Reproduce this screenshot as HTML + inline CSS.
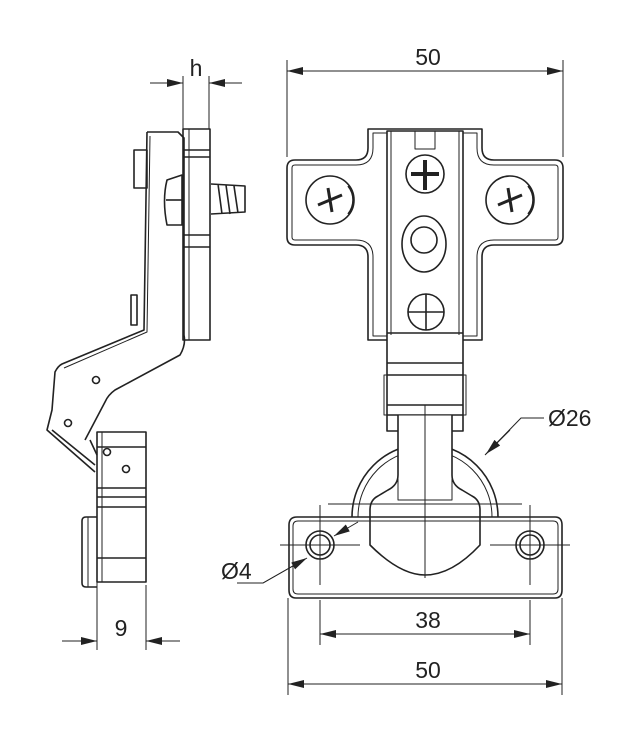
<!DOCTYPE html>
<html><head><meta charset="utf-8"><style>
html,body{margin:0;padding:0;background:#fff}
svg{display:block}
text{font-family:"Liberation Sans",sans-serif;fill:#222}
</style></head><body>
<svg width="619" height="738" viewBox="0 0 619 738" xmlns="http://www.w3.org/2000/svg">
<defs>
<marker id="a" markerWidth="16" markerHeight="8" refX="16" refY="4" orient="auto-start-reverse" markerUnits="userSpaceOnUse">
<path d="M0,0 L16,4 L0,8 Z" fill="#222"/></marker>
</defs>
<g fill="none" stroke="#222" stroke-width="1">
<line x1="183" y1="76" x2="183" y2="129"/><line x1="209" y1="76" x2="209" y2="129"/>
<line x1="150" y1="83" x2="183" y2="83" marker-end="url(#a)"/>
<line x1="242" y1="83" x2="209" y2="83" marker-end="url(#a)"/>
<line x1="287" y1="60" x2="287" y2="157"/><line x1="563" y1="60" x2="563" y2="157"/>
<line x1="287" y1="71" x2="563" y2="71" marker-start="url(#a)" marker-end="url(#a)"/>
<line x1="97" y1="580" x2="97" y2="650"/><line x1="146" y1="585" x2="146" y2="650"/>
<line x1="62" y1="641" x2="97" y2="641" marker-end="url(#a)"/>
<line x1="180" y1="641" x2="146" y2="641" marker-end="url(#a)"/>
<line x1="320" y1="600" x2="320" y2="645"/><line x1="530" y1="600" x2="530" y2="645"/>
<line x1="320" y1="634" x2="530" y2="634" marker-start="url(#a)" marker-end="url(#a)"/>
<line x1="288" y1="598" x2="288" y2="695"/><line x1="562" y1="598" x2="562" y2="695"/>
<line x1="288" y1="684" x2="562" y2="684" marker-start="url(#a)" marker-end="url(#a)"/>
<polyline points="544,418 521,418 485,455"/>
<line x1="510" y1="430" x2="486" y2="454" marker-end="url(#a)"/>
<polyline points="237,583 263,583 305,559"/>
<line x1="263" y1="583" x2="307" y2="558" marker-end="url(#a)"/>
<line x1="358" y1="522" x2="334" y2="536" marker-end="url(#a)"/>
<line x1="425" y1="405" x2="425" y2="578"/>
<line x1="328" y1="504" x2="522" y2="504"/>
<line x1="280" y1="545" x2="360" y2="545"/><line x1="490" y1="545" x2="570" y2="545"/>
<line x1="320" y1="505" x2="320" y2="585"/><line x1="530" y1="505" x2="530" y2="585"/>
</g>
<g fill="none" stroke="#222" stroke-width="1.6" stroke-linejoin="round">
<path d="M368,129 H482 V148 Q482,160 494,160 H555 Q563,160 563,168 V237 Q563,245 555,245 H494 Q482,245 482,257 V340 H368 V257 Q368,245 356,245 H295 Q287,245 287,237 V168 Q287,160 295,160 H356 Q368,160 368,148 Z"/>
<path d="M373,133 H477 V148 Q477,165 494,165 H555 Q558,165 558,168 V237 Q558,240 555,240 H494 Q477,240 477,257 V336 H373 V257 Q373,240 356,240 H295 Q292,240 292,237 V168 Q292,165 295,165 H356 Q373,165 373,148 Z" stroke-width="1"/>
<rect x="387" y="131" width="76" height="300" fill="#fff"/>
<line x1="391" y1="131" x2="391" y2="335" stroke-width="1"/><line x1="459" y1="131" x2="459" y2="335" stroke-width="1"/>
<line x1="387" y1="333" x2="463" y2="333"/><line x1="387" y1="363" x2="463" y2="363"/><line x1="387" y1="375" x2="463" y2="375"/>
<line x1="387" y1="405" x2="463" y2="405"/><line x1="387" y1="415" x2="463" y2="415"/>
<rect x="384" y="375" width="82" height="40" stroke-width="1"/>
<rect x="415" y="131" width="20" height="18" stroke-width="1"/>
<circle cx="330" cy="200" r="24"/><path d="M348,186 A22,22 0 0 1 348,214" />
<circle cx="510" cy="200" r="24"/><path d="M528,186 A22,22 0 0 1 528,214"/>
<path d="M318,205 L342,195 M328,188 L332,212" stroke-width="3"/>
<path d="M498,205 L522,195 M508,188 L512,212" stroke-width="3"/>
<circle cx="425" cy="174" r="19"/>
<path d="M425,160 V190 M411,174 H439" stroke-width="4"/>
<ellipse cx="424" cy="244" rx="22" ry="28"/><circle cx="424" cy="240" r="13"/>
<circle cx="426" cy="312" r="18"/><path d="M426,294 V330 M408,312 H444"/>
<path d="M352,517 A73,73 0 1 1 498,517"/>
<path d="M358,517 A67,67 0 1 1 492,517" stroke-width="1"/>
<path d="M398,415 V475 Q398,485 388,490 L378,496 Q370,500 370,510 V545 Q400,575 425,575 Q452,575 480,545 V510 Q480,500 472,496 L462,490 Q452,485 452,475 V415" fill="#fff"/>
<rect x="398" y="415" width="54" height="85" stroke-width="1"/>
<line x1="425" y1="405" x2="425" y2="578" stroke-width="1"/>
<line x1="370" y1="504" x2="480" y2="504" stroke-width="1"/>
<path d="M297,517 H555 Q562,517 562,525 V590 Q562,598 555,598 H296 Q289,598 289,590 V525 Q289,517 297,517 Z"/>
<path d="M298,521 H553 Q558,521 558,526 V589 Q558,594 553,594 H298 Q293,594 293,589 V526 Q293,521 298,521 Z" stroke-width="1"/>
<circle cx="320" cy="545" r="14"/><circle cx="320" cy="545" r="10"/>
<circle cx="530" cy="545" r="14"/><circle cx="530" cy="545" r="10"/>
<rect x="183" y="129" width="27" height="211"/>
<line x1="189" y1="129" x2="189" y2="340" stroke-width="1"/>
<line x1="183" y1="150" x2="210" y2="150"/><line x1="183" y1="157" x2="210" y2="157"/>
<line x1="183" y1="235" x2="210" y2="235"/><line x1="183" y1="247" x2="210" y2="247"/>
<path d="M147,132 H178 L184,138 V335 Q186,345 180,355 L115,390 Q108,395 105,402 L85,440"/>
<path d="M147,132 L144,330 L62,364 Q58,366 55,372 L52,410 L47,430 L95,472"/>
<path d="M150,136 L147,332 L64,368" stroke-width="1"/>
<path d="M167,180 Q162,200 167,225 L182,225 V175 Z"/>
<line x1="166" y1="200" x2="182" y2="200"/>
<path d="M211,184 L245,186 V212 L211,214 M218,184 L222,214 M226,185 L230,214 M234,186 L238,213"/>
<rect x="134" y="150" width="13" height="38"/>
<rect x="131" y="295" width="6" height="30"/>
<circle cx="96" cy="380" r="3.5"/><circle cx="68" cy="423" r="3.5"/>
<rect x="97" y="432" width="49" height="150"/>
<line x1="102" y1="432" x2="102" y2="582" stroke-width="1"/>
<line x1="97" y1="447" x2="146" y2="447"/><line x1="97" y1="488" x2="146" y2="488"/>
<line x1="97" y1="497" x2="146" y2="497"/><line x1="97" y1="507" x2="146" y2="507"/>
<line x1="97" y1="558" x2="146" y2="558"/>
<circle cx="107" cy="452" r="3.5"/><circle cx="126" cy="469" r="3.5"/>
<path d="M97,517 H86 Q82,517 82,521 V583 Q82,587 86,587 H97"/>
<line x1="88" y1="517" x2="88" y2="587" stroke-width="1"/>
<path d="M52,430 L95,465 M90,440 L97,455"/>
</g>
<g font-size="23">
<text x="196" y="76" text-anchor="middle">h</text>
<text x="428" y="65" text-anchor="middle">50</text>
<text x="548" y="426">Ø26</text>
<text x="221" y="579">Ø4</text>
<text x="121" y="636" text-anchor="middle">9</text>
<text x="428" y="628" text-anchor="middle">38</text>
<text x="428" y="678" text-anchor="middle">50</text>
</g>
</svg>
</body></html>
